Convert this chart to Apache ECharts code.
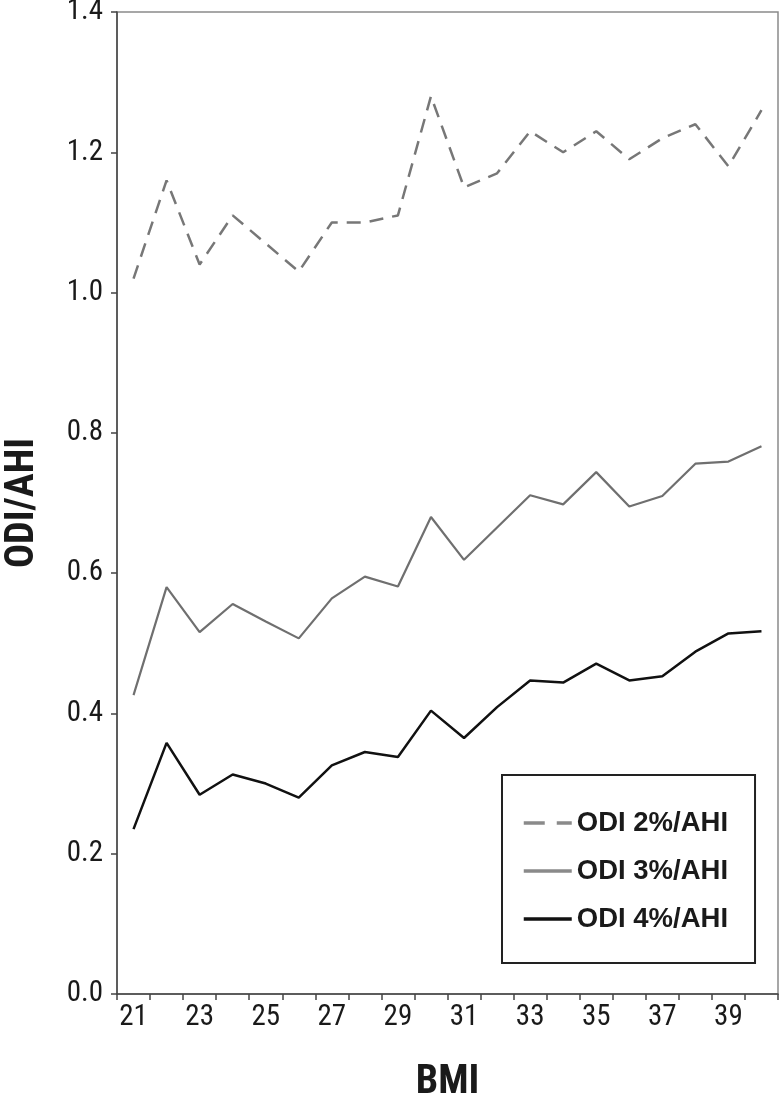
<!DOCTYPE html>
<html>
<head>
<meta charset="utf-8">
<script src="https://cdn.jsdelivr.net/npm/echarts@6/dist/echarts.min.js"></script>
<style>
  html, body { margin: 0; padding: 0; background: #fff; }
  #chart { width: 780px; height: 1096px; }
</style>
</head>
<body>
<div id="chart"></div>
<script>
// BMI categories
const bmi = ['21','22','23','24','25','26','27','28','29','30','31','32','33','34','35','36','37','38','39','40'];
// Series values
const odi2 = [1.02, 1.16, 1.04, 1.11, 1.07, 1.03, 1.10, 1.10, 1.11, 1.28, 1.15, 1.17, 1.23, 1.20, 1.23, 1.19, 1.22, 1.24, 1.18, 1.26];
const odi3 = [0.426, 0.580, 0.516, 0.556, 0.531, 0.507, 0.564, 0.595, 0.581, 0.680, 0.619, 0.665, 0.711, 0.698, 0.744, 0.695, 0.710, 0.756, 0.759, 0.781];
const odi4 = [0.235, 0.358, 0.284, 0.313, 0.300, 0.280, 0.326, 0.345, 0.338, 0.404, 0.365, 0.409, 0.447, 0.444, 0.471, 0.447, 0.453, 0.488, 0.514, 0.517];
const seriesNames = ['ODI 2%/AHI', 'ODI 3%/AHI', 'ODI 4%/AHI'];

const narrow = '"Liberation Sans Narrow", "Arial Narrow", "Roboto Condensed", "Liberation Sans", Arial, sans-serif';
const wide = '"Liberation Sans", Arial, sans-serif';

const chart = echarts.init(document.getElementById('chart'), null, { renderer: 'canvas' });
chart.setOption({
  backgroundColor: '#ffffff',
  animation: false,
  grid: {
    left: 117, right: 2, top: 12, bottom: 102,
    containLabel: false,
    outerBoundsMode: 'none',
    show: true, borderColor: '#8a8a8a', borderWidth: 1.5, backgroundColor: 'transparent'
  },
  legend: {
    show: true,
    orient: 'vertical',
    left: 502, top: 775,
    padding: [33, 27, 29, 20],
    itemWidth: 48, itemHeight: 14, itemGap: 18,
    borderColor: '#222', borderWidth: 2,
    itemStyle: { color: 'transparent', borderWidth: 0, opacity: 0 },
    lineStyle: { width: 3.5 },
    textStyle: { fontFamily: wide, fontWeight: 'bold', fontSize: 27.5, color: '#1a1a1a', lineHeight: 30 },
    data: [
      { name: seriesNames[0], lineStyle: { type: [21, 12], color: '#8a8a8a' } },
      { name: seriesNames[1], lineStyle: { color: '#8a8a8a' } },
      { name: seriesNames[2] }
    ]
  },
  xAxis: {
    type: 'category',
    data: bmi,
    boundaryGap: true,
    name: 'BMI',
    nameLocation: 'middle',
    nameGap: 69,
    nameTextStyle: { fontFamily: narrow, fontWeight: 'bold', fontSize: 40, color: '#1a1a1a' },
    axisLine: { lineStyle: { color: '#444', width: 1.5 } },
    axisTick: { show: true, interval: 0, length: 6, lineStyle: { color: '#444', width: 1.5 } },
    axisLabel: { interval: 1, margin: 9, fontFamily: narrow, fontSize: 29, color: '#1a1a1a' },
    splitLine: { show: false }
  },
  yAxis: {
    type: 'value',
    min: 0, max: 1.4, interval: 0.2,
    name: 'ODI/AHI',
    nameLocation: 'middle',
    nameGap: 74,
    nameTextStyle: { fontFamily: narrow, fontWeight: 'bold', fontSize: 40, color: '#1a1a1a' },
    axisLine: { show: true, lineStyle: { color: '#444', width: 1.5 } },
    axisTick: { show: true, length: 6, lineStyle: { color: '#444', width: 1.5 } },
    axisLabel: { margin: 14, fontFamily: narrow, fontSize: 29, color: '#1a1a1a', formatter: v => v.toFixed(1) },
    splitLine: { show: false }
  },
  series: [
    {
      name: seriesNames[0], type: 'line', data: odi2, symbol: 'none',
      lineStyle: { color: '#777', width: 2.5, type: [14, 9] },
      itemStyle: { color: '#777' }
    },
    {
      name: seriesNames[1], type: 'line', data: odi3, symbol: 'none',
      lineStyle: { color: '#6f6f6f', width: 2.2 },
      itemStyle: { color: '#6f6f6f' }
    },
    {
      name: seriesNames[2], type: 'line', data: odi4, symbol: 'none',
      lineStyle: { color: '#111', width: 2.5 },
      itemStyle: { color: '#111' }
    }
  ]
});
</script>
</body>
</html>
